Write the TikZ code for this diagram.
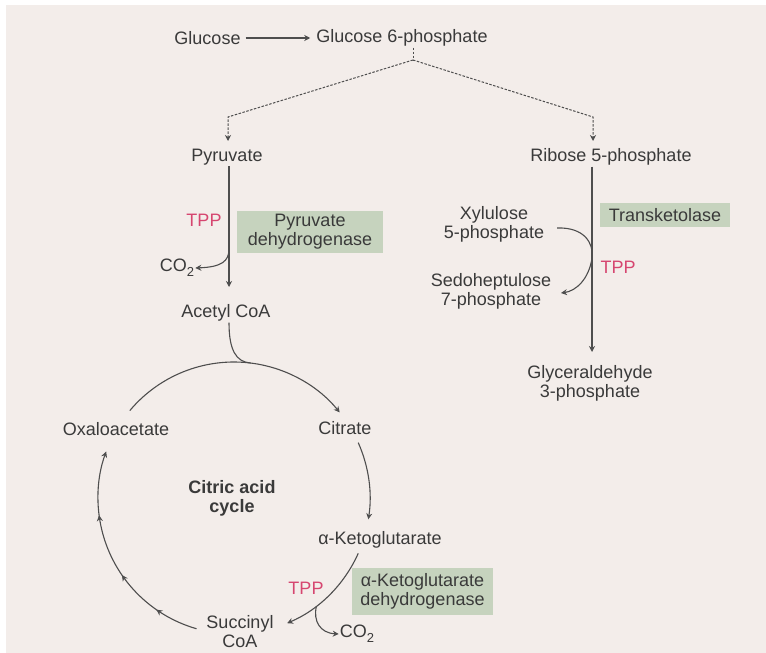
\documentclass[tikz,border=0pt]{standalone}
\usepackage{fontspec}
\setmainfont{Liberation Sans}
\usetikzlibrary{arrows.meta,calc,decorations.markings}
\definecolor{bgc}{RGB}{243,237,234}
\definecolor{ink}{RGB}{58,58,58}
\definecolor{lne}{RGB}{78,78,78}
\definecolor{tppc}{RGB}{214,70,112}
\definecolor{enzc}{RGB}{198,211,190}
\newcommand{\cotwo}{CO\raisebox{-0.3em}{\fontsize{13}{13}\selectfont 2}}
\begin{document}
\begin{tikzpicture}[x=1pt,y=1pt,
  font=\fontsize{18}{19}\selectfont,
  every node/.style={text=ink, align=center, inner sep=1pt},
  lin/.style={draw=lne, line width=1.1pt},
  arr/.style={-{Stealth[length=6pt,width=6pt,inset=2pt]}},
  dsh/.style={draw=lne, line width=1pt, dash pattern=on 2.5pt off 1.5pt},
  enzbox/.style={fill=enzc, inner sep=2pt},
  tpp/.style={text=tppc},
  midarr/.style={postaction={decorate}, decoration={markings,
     mark=at position 0.2 with {\arrow{Stealth[length=6pt,width=6pt,inset=2pt]}},
     mark=at position 0.42 with {\arrow{Stealth[length=6pt,width=6pt,inset=2pt]}},
     mark=at position 0.71 with {\arrow{Stealth[length=6pt,width=6pt,inset=2pt]}}}}
]
\useasboundingbox (0,0) rectangle (766,-653);
\fill[white] (0,0) rectangle (766,-653);
\fill[bgc] (6,-5) rectangle (766,-653);

% nodes
\node (glc) at (207.5,-38) {Glucose};
\node (g6p) at (402,-38) {Glucose 6-phosphate};
\node (pyr) at (227,-157) {Pyruvate};
\node (rib) at (611,-157) {Ribose 5-phosphate};
\node[tpp] (tpp1) at (204,-220) {TPP};
\node[enzbox, minimum width=146pt, minimum height=42pt] (pdh) at (310,-232) {Pyruvate\\dehydrogenase};
\node (co2a) at (177,-268) {\cotwo};
\node (acoa) at (226,-313) {Acetyl CoA};
\node (xyl) at (494,-224) {Xylulose\\5-phosphate};
\node (sed) at (491,-291) {Sedoheptulose\\7-phosphate};
\node[enzbox, minimum width=130pt, minimum height=24pt] (tk) at (665,-215) {Transketolase};
\node[tpp] (tpp2) at (618,-267) {TPP};
\node (gap) at (590,-383) {Glyceraldehyde\\3-phosphate};
\node (oaa) at (116,-429) {Oxaloacetate};
\node (cit) at (345,-428) {Citrate};
\node[font=\fontsize{18}{19}\selectfont\bfseries] (cac) at (232,-498) {Citric acid\\cycle};
\node (akg) at (380,-540) {α-Ketoglutarate};
\node[tpp] (tpp3) at (306,-588) {TPP};
\node[enzbox, minimum width=141pt, minimum height=47pt] (akgdh) at (422.5,-591.5) {α-Ketoglutarate\\dehydrogenase};
\node (suc) at (240,-632) {Succinyl\\CoA};
\node (co2b) at (357,-634) {\cotwo};

% coordinates
\coordinate (j) at (413,-60);
\coordinate (jl) at (228,-117);
\coordinate (jr) at (593,-117);
\coordinate (c) at (234,-498);

% glucose arrow
\draw[lin, arr, shorten <=4pt, shorten >=5pt] (glc.east) -- (g6p.west);

% dashed branches
\draw[dsh] (g6p.south -| j) -- (j);
\draw[dsh, arr] (j) -- (jl) -- (jl |- 0,-141);
\draw[dsh, arr] (j) -- (jr) -- (jr |- 0,-141);

% pyruvate -> acetyl CoA
\draw[lin, arr] (pyr.south -| 229,0) -- (229,-287);
\draw[lin, arr] (229,-249) .. controls (229,-261) and (222,-267) .. (co2a.east);

% ribose -> GAP
\draw[lin, arr] (rib.south -| 592,0) -- (592,-352);
\draw[lin, arr] (557,-228) .. controls (584,-227) and (594,-243) .. (592,-258)
                .. controls (589,-279) and (576,-291) .. (561,-293);

% acetyl CoA joins cycle
\draw[lin] (acoa.south -| 229,0) .. controls (229,-350) and (236,-362) .. ($(c)+(83:136)$);

% cycle arcs
\draw[lin, arr] ($(c)+(140:136)$) arc[start angle=140, end angle=39, radius=136];
\draw[lin, arr] ($(c)+(24:136)$) arc[start angle=24, end angle=-9, radius=136];
\draw[lin, arr] ($(c)+(-24:136)$) arc[start angle=-24, end angle=-67, radius=136];
\draw[lin, arr, midarr] ($(c)+(254:136)$) arc[start angle=254, end angle=160, radius=136];

% CO2 from alpha-KG
\draw[lin, arr] ($(c)+(-52.7:136)$) .. controls (313,-621) and (320,-633) .. (co2b.west);
\end{tikzpicture}
\end{document}
